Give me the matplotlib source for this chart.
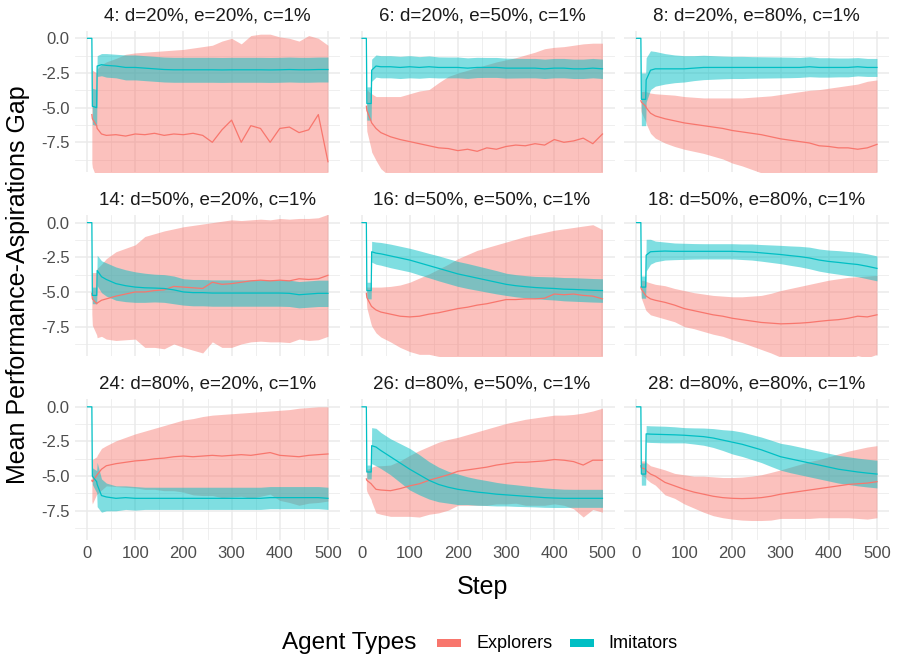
import numpy as np
import matplotlib
matplotlib.use("Agg")
import matplotlib.pyplot as plt
from matplotlib.patches import Rectangle

plt.rcParams['font.family'] = ['Liberation Sans', 'DejaVu Sans']

nan = np.nan

# simulation steps at which the run averages were recorded
steps = [1, 10, 11, 20, 21, 30, 40, 60, 80, 100, 120, 140, 160, 180, 200,
         220, 240, 260, 280, 300, 320, 340, 360, 380, 400, 420, 440, 460, 480, 500]

# run 4: d=20%, e=20%
run4_imit_mean = [0, 0, -4.9, -5.0, -2.0, -1.9, -1.95, -2.0, -2.1, -2.1, -2.15, -2.2, -2.25, -2.27, -2.27,
                  -2.27, -2.27, -2.27, -2.28, -2.27, -2.27, -2.27, -2.27, -2.28, -2.27, -2.25, -2.27, -2.27, -2.25, -2.25]
run4_imit_sd = [0, 0, 1.3, 1.3, 0.75, 0.8, 0.85, 0.85, 0.9, 0.9, 0.9, 0.9, 0.9, 0.9, 0.9,
                0.9, 0.9, 0.9, 0.9, 0.9, 0.9, 0.9, 0.9, 0.9, 0.9, 0.9, 0.9, 0.9, 0.9, 0.9]
run4_expl_mean = [nan, -5.5, -5.8, -6.3, -6.5, -6.9, -7.0, -6.95, -7.05, -6.9, -6.95, -6.85, -7.0, -6.9, -6.95,
                  -6.85, -7.0, -7.5, -6.6, -5.9, -7.5, -6.3, -6.5, -7.5, -6.5, -6.4, -6.8, -6.6, -5.5, -8.9]
run4_expl_sd = [nan, 3.5, 3.5, 3.8, 4.3, 5.0, 5.3, 5.5, 5.9, 5.85, 5.95, 5.9, 6.1, 6.05, 6.15,
                6.15, 6.4, 7.0, 6.4, 5.9, 7.1, 6.5, 6.8, 7.8, 6.6, 6.4, 6.6, 6.8, 5.5, 8.4]

# run 6: d=20%, e=50%
run6_imit_mean = [0, 0, -4.7, -4.7, -2.3, -2.0, -2.05, -2.05, -2.1, -2.05, -2.1, -2.05, -2.1, -2.1, -2.1,
                  -2.15, -2.1, -2.1, -2.1, -2.15, -2.15, -2.15, -2.15, -2.2, -2.15, -2.15, -2.2, -2.2, -2.15, -2.2]
run6_imit_sd = [0, 0, 1.2, 1.2, 0.8, 0.8, 0.8, 0.8, 0.8, 0.8, 0.78, 0.78, 0.76, 0.75, 0.75,
                0.74, 0.73, 0.72, 0.72, 0.72, 0.71, 0.7, 0.7, 0.7, 0.7, 0.7, 0.7, 0.7, 0.7, 0.7]
run6_expl_mean = [nan, -4.9, -5.2, -6.0, -6.1, -6.5, -6.8, -7.1, -7.3, -7.45, -7.6, -7.75, -7.9, -7.95, -8.1,
                  -8.0, -8.15, -7.9, -8.0, -7.8, -7.7, -7.75, -7.6, -7.7, -7.3, -7.5, -7.4, -7.2, -7.6, -6.9]
run6_expl_sd = [nan, 1.0, 1.5, 2.0, 2.1, 2.3, 2.6, 2.9, 3.1, 3.45, 3.8, 4.05, 4.7, 5.2, 5.6,
                5.7, 6.05, 6.0, 6.3, 6.25, 6.3, 6.55, 6.6, 6.95, 6.65, 6.9, 6.9, 6.8, 7.25, 6.55]

# run 8: d=20%, e=80%
run8_imit_mean = [0, 0, -4.4, -4.4, -3.0, -2.3, -2.2, -2.2, -2.2, -2.2, -2.15, -2.1, -2.1, -2.1, -2.1,
                  -2.1, -2.1, -2.1, -2.1, -2.1, -2.1, -2.1, -2.05, -2.1, -2.1, -2.1, -2.1, -2.05, -2.1, -2.1]
run8_imit_sd = [0, 0, 1.9, 1.9, 1.6, 1.4, 1.25, 1.1, 1.0, 0.95, 0.9, 0.88, 0.85, 0.82, 0.8,
                0.8, 0.78, 0.77, 0.76, 0.75, 0.74, 0.72, 0.72, 0.7, 0.7, 0.68, 0.68, 0.66, 0.65, 0.65]
run8_expl_mean = [nan, -4.5, -4.6, -4.9, -5.0, -5.4, -5.6, -5.8, -5.95, -6.1, -6.2, -6.3, -6.4, -6.5, -6.65,
                  -6.75, -6.85, -6.95, -7.1, -7.25, -7.35, -7.45, -7.55, -7.75, -7.8, -7.9, -7.9, -8.0, -7.9, -7.65]
run8_expl_sd = [nan, 0.7, 0.75, 1.1, 1.15, 1.45, 1.6, 1.75, 1.85, 1.9, 1.95, 2.0, 2.1, 2.2, 2.35,
                2.45, 2.6, 2.75, 2.95, 3.2, 3.4, 3.6, 3.8, 4.05, 4.2, 4.4, 4.5, 4.7, 4.8, 4.65]

# run 14: d=50%, e=20%
run14_imit_mean = [0, 0, -5.25, -5.25, -3.45, -3.9, -4.1, -4.4, -4.55, -4.65, -4.7, -4.72, -4.75, -4.85, -5.0,
                   -5.05, -5.05, -5.08, -5.08, -5.08, -5.08, -5.08, -5.08, -5.08, -5.08, -5.1, -5.2, -5.15, -5.1, -5.1]
run14_imit_sd = [0, 0, 0.6, 0.6, 1.1, 1.15, 1.2, 1.2, 1.15, 1.1, 1.05, 1.0, 1.0, 1.0, 0.95,
                 0.95, 0.95, 0.95, 0.95, 0.95, 0.95, 0.95, 0.95, 0.95, 0.95, 0.95, 0.95, 0.95, 0.95, 0.95]
run14_expl_mean = [nan, -5.1, -5.5, -5.85, -5.8, -5.6, -5.5, -5.3, -5.15, -5.0, -5.0, -4.9, -4.85, -4.6, -4.65,
                   -4.7, -4.75, -4.3, -4.45, -4.4, -4.3, -4.2, -4.15, -4.2, -4.15, -4.2, -4.05, -4.1, -4.05, -3.8]
run14_expl_sd = [nan, 1.5, 1.9, 2.25, 2.5, 2.6, 2.9, 3.2, 3.3, 3.4, 4.0, 4.1, 4.25, 4.15, 4.35,
                 4.5, 4.65, 4.3, 4.55, 4.6, 4.45, 4.4, 4.4, 4.4, 4.45, 4.45, 4.35, 4.4, 4.4, 4.4]

# run 16: d=50%, e=50%
run16_imit_mean = [0, 0, -4.9, -4.9, -2.1, -2.2, -2.25, -2.4, -2.55, -2.7, -2.9, -3.1, -3.3, -3.5, -3.7,
                   -3.85, -4.0, -4.15, -4.3, -4.45, -4.55, -4.62, -4.68, -4.72, -4.75, -4.8, -4.82, -4.85, -4.88, -4.9]
run16_imit_sd = [0, 0, 0.6, 0.6, 0.75, 0.8, 0.82, 0.85, 0.85, 0.85, 0.87, 0.88, 0.9, 0.9, 0.9,
                 0.9, 0.88, 0.86, 0.84, 0.8, 0.8, 0.8, 0.8, 0.82, 0.83, 0.84, 0.85, 0.85, 0.85, 0.85]
run16_expl_mean = [nan, -5.1, -5.4, -6.0, -6.05, -6.3, -6.45, -6.6, -6.75, -6.8, -6.75, -6.6, -6.5, -6.35, -6.2,
                   -6.1, -5.95, -5.85, -5.7, -5.55, -5.55, -5.5, -5.5, -5.45, -5.15, -5.2, -5.15, -5.25, -5.3, -5.5]
run16_expl_sd = [nan, 0.5, 0.75, 1.35, 1.4, 1.65, 1.8, 2.0, 2.25, 2.5, 2.75, 2.9, 3.15, 3.35, 3.6,
                 3.8, 3.95, 4.05, 4.1, 4.15, 4.35, 4.5, 4.65, 4.75, 4.6, 4.75, 4.8, 5.0, 5.15, 5.0]

# run 18: d=50%, e=80%
run18_imit_mean = [0, 0, -4.65, -4.65, -2.35, -2.1, -2.08, -2.05, -2.07, -2.07, -2.07, -2.07, -2.07, -2.07, -2.07,
                   -2.1, -2.12, -2.18, -2.24, -2.3, -2.38, -2.45, -2.55, -2.7, -2.8, -2.87, -2.95, -3.02, -3.15, -3.3]
run18_imit_sd = [0, 0, 0.8, 0.8, 1.15, 0.9, 0.75, 0.65, 0.6, 0.58, 0.56, 0.55, 0.55, 0.55, 0.55,
                 0.56, 0.58, 0.6, 0.63, 0.66, 0.7, 0.74, 0.78, 0.8, 0.82, 0.85, 0.87, 0.88, 0.9, 0.9]
run18_expl_mean = [nan, -4.65, -4.8, -5.25, -5.3, -5.5, -5.6, -5.75, -5.95, -6.2, -6.35, -6.5, -6.65, -6.75, -6.9,
                   -7.0, -7.1, -7.2, -7.25, -7.3, -7.28, -7.25, -7.2, -7.12, -7.05, -7.0, -6.9, -6.75, -6.8, -6.65]
run18_expl_sd = [nan, 0.5, 0.65, 1.05, 1.05, 1.15, 1.15, 1.2, 1.2, 1.3, 1.3, 1.35, 1.4, 1.45, 1.55,
                 1.65, 1.8, 1.95, 2.15, 2.4, 2.53, 2.65, 2.75, 2.82, 2.9, 2.95, 2.95, 2.85, 2.95, 2.85]

# run 24: d=80%, e=20%
run24_imit_mean = [0, 0, -5.0, -5.4, -5.6, -6.4, -6.5, -6.6, -6.55, -6.6, -6.6, -6.6, -6.6, -6.6, -6.6,
                   -6.6, -6.6, -6.6, -6.6, -6.6, -6.6, -6.6, -6.6, -6.55, -6.55, -6.55, -6.55, -6.55, -6.55, -6.6]
run24_imit_sd = [0, 0, 0.6, 0.8, 1.6, 1.2, 1.0, 0.9, 0.85, 0.85, 0.8, 0.8, 0.8, 0.8, 0.8,
                 0.8, 0.8, 0.8, 0.8, 0.8, 0.8, 0.8, 0.8, 0.8, 0.8, 0.8, 0.8, 0.8, 0.8, 0.8]
run24_expl_mean = [nan, -5.3, -5.4, -4.95, -4.9, -4.5, -4.25, -4.1, -4.0, -3.9, -3.85, -3.75, -3.7, -3.6, -3.55,
                   -3.6, -3.55, -3.5, -3.55, -3.5, -3.45, -3.5, -3.4, -3.3, -3.5, -3.55, -3.6, -3.5, -3.45, -3.4]
run24_expl_sd = [nan, 1.5, 1.6, 1.35, 1.4, 1.5, 1.45, 1.65, 1.8, 1.95, 2.1, 2.2, 2.35, 2.45, 2.6,
                 2.75, 2.85, 2.9, 3.0, 3.0, 3.0, 3.1, 3.05, 3.0, 3.25, 3.35, 3.5, 3.45, 3.45, 3.4]

# run 26: d=80%, e=50%
run26_imit_mean = [0, 0, -4.7, -4.7, -2.8, -2.9, -3.15, -3.6, -4.05, -4.5, -4.9, -5.3, -5.6, -5.8, -5.95,
                   -6.05, -6.15, -6.22, -6.3, -6.35, -6.4, -6.45, -6.5, -6.55, -6.58, -6.6, -6.6, -6.6, -6.6, -6.6]
run26_imit_sd = [0, 0, 0.5, 0.5, 1.3, 1.35, 1.3, 1.3, 1.4, 1.5, 1.45, 1.35, 1.25, 1.15, 1.1,
                 1.0, 0.95, 0.9, 0.85, 0.8, 0.78, 0.75, 0.72, 0.7, 0.68, 0.66, 0.65, 0.65, 0.65, 0.65]
run26_expl_mean = [nan, -5.2, -5.3, -5.55, -5.6, -5.95, -6.0, -6.05, -5.9, -5.7, -5.55, -5.3, -5.1, -4.9, -4.65,
                   -4.55, -4.45, -4.35, -4.2, -4.1, -4.0, -4.0, -3.95, -3.9, -3.8, -3.85, -3.95, -4.2, -3.85, -3.85]
run26_expl_sd = [nan, 0.7, 0.8, 1.15, 1.25, 1.7, 1.75, 1.85, 2.0, 2.2, 2.4, 2.45, 2.55, 2.55, 2.45,
                 2.55, 2.65, 2.75, 2.8, 2.9, 2.95, 3.1, 3.15, 3.2, 3.2, 3.25, 3.4, 3.75, 3.55, 3.75]

# run 28: d=80%, e=80%
run28_imit_mean = [0, 0, -4.85, -4.85, -1.95, -1.97, -1.98, -2.0, -2.02, -2.05, -2.1, -2.15, -2.25, -2.4, -2.55,
                   -2.7, -2.9, -3.1, -3.35, -3.6, -3.75, -3.9, -4.05, -4.2, -4.35, -4.5, -4.6, -4.7, -4.78, -4.85]
run28_imit_sd = [0, 0, 0.8, 0.8, 0.6, 0.6, 0.6, 0.6, 0.58, 0.55, 0.58, 0.62, 0.68, 0.75, 0.85,
                 0.88, 0.9, 0.92, 0.95, 0.97, 1.0, 1.0, 1.0, 1.0, 1.0, 1.0, 1.0, 1.0, 1.0, 1.0]
run28_expl_mean = [nan, -4.25, -4.4, -4.5, -4.6, -4.85, -5.0, -5.45, -5.7, -5.95, -6.15, -6.3, -6.45, -6.55, -6.6,
                   -6.62, -6.6, -6.55, -6.45, -6.3, -6.2, -6.1, -6.0, -5.9, -5.8, -5.7, -5.6, -5.55, -5.5, -5.4]
run28_expl_sd = [nan, 0.5, 0.5, 0.6, 0.6, 0.6, 0.65, 0.9, 0.9, 1.05, 1.15, 1.3, 1.4, 1.45, 1.5,
                 1.55, 1.6, 1.65, 1.72, 1.75, 1.85, 1.95, 2.05, 2.1, 2.2, 2.3, 2.4, 2.5, 2.6, 2.6]

panels = [
    ("4: d=20%, e=20%, c=1%", run4_imit_mean, run4_imit_sd, run4_expl_mean, run4_expl_sd),
    ("6: d=20%, e=50%, c=1%", run6_imit_mean, run6_imit_sd, run6_expl_mean, run6_expl_sd),
    ("8: d=20%, e=80%, c=1%", run8_imit_mean, run8_imit_sd, run8_expl_mean, run8_expl_sd),
    ("14: d=50%, e=20%, c=1%", run14_imit_mean, run14_imit_sd, run14_expl_mean, run14_expl_sd),
    ("16: d=50%, e=50%, c=1%", run16_imit_mean, run16_imit_sd, run16_expl_mean, run16_expl_sd),
    ("18: d=50%, e=80%, c=1%", run18_imit_mean, run18_imit_sd, run18_expl_mean, run18_expl_sd),
    ("24: d=80%, e=20%, c=1%", run24_imit_mean, run24_imit_sd, run24_expl_mean, run24_expl_sd),
    ("26: d=80%, e=50%, c=1%", run26_imit_mean, run26_imit_sd, run26_expl_mean, run26_expl_sd),
    ("28: d=80%, e=80%, c=1%", run28_imit_mean, run28_imit_sd, run28_expl_mean, run28_expl_sd),
]

EXPL = '#F8766D'
IMIT = '#00BFC4'
GRID = '#EBEBEB'

W, H = 898, 660
fig = plt.figure(figsize=(W / 100, H / 100), dpi=100)

col_left = [75, 349.5, 624]
row_top = [30.7, 215, 399.2]
pw, ph = 265, 141

x = np.array(steps, dtype=float)

for i, (title, im_mean, im_sd, ex_mean, ex_sd) in enumerate(panels):
    r, c = divmod(i, 3)
    ax = fig.add_axes([col_left[c] / W, 1 - (row_top[r] + ph) / H, pw / W, ph / H])

    im_mean, im_sd = np.array(im_mean), np.array(im_sd)
    ex_mean, ex_sd = np.array(ex_mean), np.array(ex_sd)

    ax.fill_between(x, ex_mean - ex_sd, ex_mean + ex_sd, color=EXPL, alpha=0.45, lw=0)
    ax.plot(x, ex_mean, color=EXPL, lw=0.9)
    ax.fill_between(x, im_mean - im_sd, im_mean + im_sd, color=IMIT, alpha=0.5, lw=0)
    ax.plot(x, im_mean, color=IMIT, lw=0.9)

    ax.set_xlim(-25, 525)
    ax.set_ylim(-9.62, 0.55)
    ax.set_xticks(range(0, 501, 100))
    ax.set_xticks(range(50, 500, 100), minor=True)
    ax.set_yticks([0, -2.5, -5, -7.5])
    ax.set_yticks([-1.25, -3.75, -6.25, -8.75], minor=True)
    ax.grid(which='major', color=GRID, lw=1.1)
    ax.grid(which='minor', color=GRID, lw=0.55)
    ax.set_axisbelow(True)
    for s in ax.spines.values():
        s.set_visible(False)
    ax.tick_params(which='both', length=0, labelsize=12, labelcolor='#4D4D4D', pad=4)

    if c == 0:
        ax.set_yticklabels(['0.0', '-2.5', '-5.0', '-7.5'])
    else:
        ax.set_yticklabels([])
    if r == 2:
        ax.set_xticklabels([str(v) for v in range(0, 501, 100)])
    else:
        ax.set_xticklabels([])

    ax.text(0.5, 1 + 15 / ph, title, transform=ax.transAxes, ha='center', va='center',
            fontsize=13.5, color='#1A1A1A')

fig.text(18 / W, 1 - 285 / H, 'Mean Performance-Aspirations Gap', rotation=90,
         ha='center', va='center', fontsize=18)
fig.text(482 / W, 1 - 587 / H, 'Step', ha='center', va='center', fontsize=18)

# legend strip along the bottom
ly = 1 - 643 / H
fig.text(282 / W, ly, 'Agent Types', ha='left', va='center', fontsize=17.5)
for kx, tx, col, lab in [(437, 477, EXPL, 'Explorers'), (570, 608, IMIT, 'Imitators')]:
    fig.add_artist(Rectangle((kx / W, 1 - 647 / H), 24 / W, 8 / H, transform=fig.transFigure,
                             facecolor=col, edgecolor='none'))
    fig.text(tx / W, ly, lab, ha='left', va='center', fontsize=13)

fig.savefig('out.png', dpi=100)
